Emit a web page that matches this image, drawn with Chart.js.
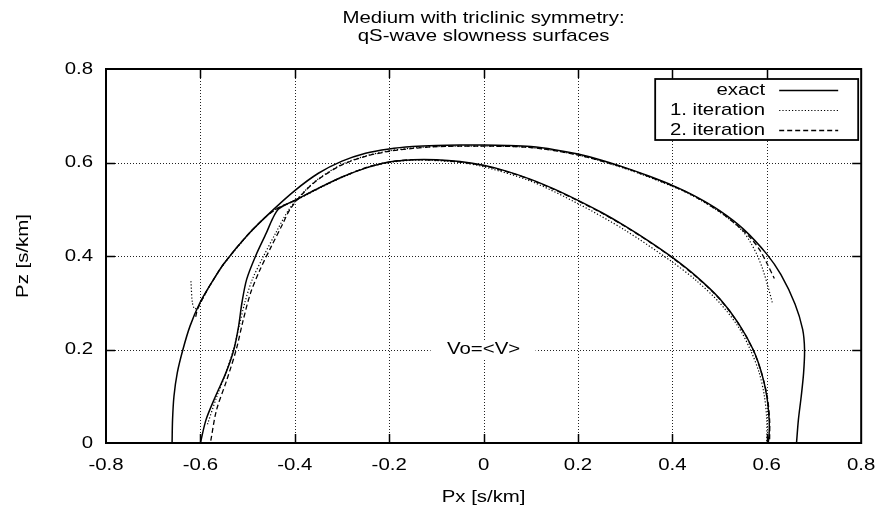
<!DOCTYPE html>
<html>
<head>
<meta charset="utf-8">
<script src="https://cdn.jsdelivr.net/npm/chart.js@4/dist/chart.umd.min.js"></script>
<style>
  html, body { margin: 0; padding: 0; background: #fff; }
  canvas { display: block; }
</style>
</head>
<body>
<canvas id="slownessChart" width="885" height="508"></canvas>
<script>
// --- DATA ---
const xTicks = [-0.8, -0.6, -0.4, -0.2, 0, 0.2, 0.4, 0.6, 0.8];
const xTickLabels = ['-0.8', '-0.6', '-0.4', '-0.2', '0', '0.2', '0.4', '0.6', '0.8'];
const yTicks = [0, 0.2, 0.4, 0.6, 0.8];
const yTickLabels = ['0', '0.2', '0.4', '0.6', '0.8'];
const legendLabels = ['exact', '1. iteration', '2. iteration'];

// exact: outer sheet (qS1) and inner sheet (qS2)
const exactOuterPx = [-0.660, -0.659, -0.656, -0.649, -0.637, -0.622, -0.601, -0.575, -0.550, -0.500, -0.450, -0.400, -0.350, -0.300, -0.250, -0.200, -0.150, -0.100, -0.050, 0.000, 0.050, 0.100, 0.150, 0.200, 0.250, 0.300, 0.350, 0.400, 0.450, 0.500, 0.550, 0.600, 0.630, 0.660, 0.676, 0.680, 0.678, 0.673, 0.667, 0.663];
const exactOuterPz = [0.000, 0.050, 0.100, 0.150, 0.200, 0.250, 0.300, 0.345, 0.384, 0.445, 0.495, 0.540, 0.577, 0.603, 0.620, 0.629, 0.634, 0.6365, 0.6375, 0.6375, 0.6365, 0.634, 0.6275, 0.618, 0.605, 0.589, 0.571, 0.551, 0.527, 0.497, 0.458, 0.404, 0.360, 0.297, 0.243, 0.200, 0.150, 0.100, 0.050, 0.000];
const exactInnerPx = [-0.600, -0.588, -0.568, -0.546, -0.529, -0.519, -0.512, -0.502, -0.483, -0.460, -0.447, -0.435, -0.415, -0.400, -0.350, -0.300, -0.250, -0.200, -0.150, -0.100, -0.050, 0.000, 0.050, 0.100, 0.150, 0.200, 0.250, 0.300, 0.350, 0.400, 0.450, 0.500, 0.540, 0.571, 0.589, 0.600, 0.605, 0.605, 0.603];
const exactInnerPz = [0.000, 0.050, 0.100, 0.150, 0.200, 0.250, 0.300, 0.350, 0.400, 0.450, 0.480, 0.500, 0.512, 0.519, 0.545, 0.569, 0.588, 0.601, 0.606, 0.606, 0.602, 0.594, 0.581, 0.564, 0.543, 0.519, 0.493, 0.464, 0.432, 0.397, 0.357, 0.309, 0.256, 0.200, 0.150, 0.100, 0.050, 0.020, 0.000];

// 1. iteration (dotted): branch A (lower inner -> outer top -> right stub), branch B (left stub -> inner top)
const iter1APx = [-0.585, -0.565, -0.546, -0.530, -0.518, -0.506, -0.490, -0.466, -0.440, -0.412, -0.380, -0.350, -0.300, -0.250, -0.200, -0.150, -0.100, 0.000, 0.100, 0.200, 0.300, 0.400, 0.450, 0.500, 0.530, 0.550, 0.565, 0.580, 0.592, 0.603, 0.612];
const iter1APz = [0.040, 0.100, 0.150, 0.200, 0.250, 0.300, 0.350, 0.400, 0.450, 0.500, 0.538, 0.565, 0.596, 0.614, 0.625, 0.631, 0.634, 0.635, 0.632, 0.616, 0.587, 0.549, 0.525, 0.494, 0.471, 0.452, 0.430, 0.401, 0.370, 0.333, 0.299];
const iter1BPx = [-0.620, -0.617, -0.612, -0.604, -0.590, -0.575, -0.550, -0.500, -0.460, -0.435, -0.400, -0.350, -0.300, -0.250, -0.200, -0.150, -0.100, -0.050, 0.000, 0.100, 0.200, 0.300, 0.400, 0.450, 0.500, 0.540, 0.565, 0.584, 0.595, 0.600, 0.600];
const iter1BPz = [0.346, 0.300, 0.287, 0.293, 0.318, 0.345, 0.383, 0.444, 0.485, 0.503, 0.518, 0.544, 0.568, 0.588, 0.600, 0.605, 0.604, 0.600, 0.591, 0.560, 0.512, 0.455, 0.387, 0.348, 0.300, 0.248, 0.200, 0.150, 0.100, 0.050, 0.000];

// 2. iteration (dashed)
const iter2APx = [-0.578, -0.566, -0.544, -0.524, -0.510, -0.494, -0.474, -0.450, -0.425, -0.410, -0.380, -0.350, -0.300, -0.250, -0.200, -0.150, -0.100, 0.000, 0.100, 0.200, 0.300, 0.400, 0.450, 0.500, 0.540, 0.567, 0.585, 0.600, 0.616];
const iter2APz = [0.005, 0.070, 0.135, 0.200, 0.260, 0.320, 0.370, 0.420, 0.470, 0.500, 0.537, 0.564, 0.595, 0.613, 0.624, 0.630, 0.634, 0.635, 0.632, 0.616, 0.588, 0.550, 0.526, 0.495, 0.463, 0.437, 0.413, 0.385, 0.352];
const iter2BPx = [-0.610, -0.606, -0.590, -0.575, -0.550, -0.500, -0.460, -0.435, -0.400, -0.350, -0.300, -0.250, -0.200, -0.150, -0.100, -0.050, 0.000, 0.050, 0.100, 0.150, 0.200, 0.250, 0.300, 0.350, 0.400, 0.450, 0.500, 0.540, 0.571, 0.589, 0.601, 0.606, 0.606];
const iter2BPz = [0.270, 0.286, 0.319, 0.345, 0.384, 0.445, 0.485, 0.503, 0.519, 0.545, 0.569, 0.589, 0.601, 0.606, 0.605, 0.601, 0.593, 0.580, 0.563, 0.542, 0.518, 0.492, 0.463, 0.431, 0.396, 0.356, 0.308, 0.255, 0.199, 0.149, 0.099, 0.049, 0.005];

const noteText = 'Vo=<V>';
const notePx = 0;
const notePz = 0.2;

// --- helpers ---
const toPoints = (px, pz) => px.map((x, i) => ({ x: x, y: pz[i] }));

const FONT = '"Liberation Sans", Arial, Helvetica, sans-serif';
const TEXT_STRETCH = 1.2; // the reference glyphs are a bit wider than plain Helvetica

const canvas = document.getElementById('slownessChart');
const ctx = canvas.getContext('2d');
const plainFillText = ctx.fillText;
ctx.fillText = function (text, x, y) {
    this.save();
    this.translate(x, y);
    this.scale(TEXT_STRETCH, 1);
    plainFillText.call(this, text, 0, 0);
    this.restore();
};

const styles = {
    exact: { borderWidth: 1.5, borderDash: [] },
    iter1: { borderWidth: 1.2, borderDash: [1.2, 2] },
    iter2: { borderWidth: 1.3, borderDash: [5, 3] }
};

function curve(label, style, px, pz) {
    return {
        label: label,
        data: toPoints(px, pz),
        showLine: true,
        fill: false,
        borderColor: '#000',
        borderWidth: style.borderWidth,
        borderDash: style.borderDash,
        pointRadius: 0,
        pointHoverRadius: 0,
        tension: 0.3
    };
}

// grid, border, inward ticks, note label and the boxed key
const framePlugin = {
    id: 'gnuplotFrame',
    beforeDatasetsDraw(chart) {
        const { ctx, chartArea: a, scales: { x, y } } = chart;
        ctx.save();
        ctx.strokeStyle = '#222';
        ctx.lineWidth = 1;
        ctx.setLineDash([1, 2]);
        xTicks.slice(1, -1).forEach(v => {
            const p = Math.round(x.getPixelForValue(v)) + 0.5;
            ctx.beginPath(); ctx.moveTo(p, a.top); ctx.lineTo(p, a.bottom); ctx.stroke();
        });
        yTicks.slice(1, -1).forEach(v => {
            const p = Math.round(y.getPixelForValue(v)) + 0.5;
            ctx.beginPath(); ctx.moveTo(a.left, p); ctx.lineTo(a.right, p); ctx.stroke();
        });
        ctx.setLineDash([]);

        // note label on a white patch
        const lx = x.getPixelForValue(notePx);
        const ly = y.getPixelForValue(notePz);
        ctx.fillStyle = '#fff';
        ctx.fillRect(lx - 53, ly - 9, 105, 18);
        ctx.fillStyle = '#000';
        ctx.font = '17px ' + FONT;
        ctx.textAlign = 'center';
        ctx.textBaseline = 'middle';
        ctx.fillText(noteText, lx, ly);
        ctx.restore();
    },
    afterDraw(chart) {
        const { ctx, chartArea: a, scales: { x, y } } = chart;
        ctx.save();
        ctx.strokeStyle = '#000';

        // inward tick marks
        ctx.lineWidth = 1.5;
        xTicks.slice(1, -1).forEach(v => {
            const p = Math.round(x.getPixelForValue(v)) + 0.5;
            ctx.beginPath();
            ctx.moveTo(p, a.bottom); ctx.lineTo(p, a.bottom - 9);
            ctx.moveTo(p, a.top); ctx.lineTo(p, a.top + 9);
            ctx.stroke();
        });
        yTicks.slice(1, -1).forEach(v => {
            const p = Math.round(y.getPixelForValue(v)) + 0.5;
            ctx.beginPath();
            ctx.moveTo(a.left, p); ctx.lineTo(a.left + 9, p);
            ctx.moveTo(a.right, p); ctx.lineTo(a.right - 9, p);
            ctx.stroke();
        });

        // plot border
        ctx.lineWidth = 2;
        ctx.strokeRect(a.left, a.top, a.right - a.left, a.bottom - a.top);

        // key box, top right
        const bw = 203, bh = 61;
        const bx = a.right - 3 - bw;
        const by = a.top + 10;
        ctx.fillStyle = '#fff';
        ctx.fillRect(bx, by, bw, bh);
        ctx.lineWidth = 1.8;
        ctx.strokeRect(bx, by, bw, bh);

        ctx.font = '17px ' + FONT;
        ctx.textAlign = 'right';
        ctx.textBaseline = 'middle';
        ctx.fillStyle = '#000';
        legendLabels.forEach((label, i) => {
            const ds = chart.data.datasets.find(d => d.label === label);
            const rowY = by + 11 + i * 20;
            ctx.fillText(label, bx + 110, rowY);
            ctx.lineWidth = ds.borderWidth;
            ctx.setLineDash(ds.borderDash);
            ctx.beginPath();
            ctx.moveTo(bx + 124, rowY + 0.5);
            ctx.lineTo(bx + 183, rowY + 0.5);
            ctx.stroke();
            ctx.setLineDash([]);
        });
        ctx.restore();
    }
};

Chart.defaults.font.family = FONT;
Chart.defaults.font.size = 17;
Chart.defaults.color = '#000';

new Chart(ctx, {
    type: 'scatter',
    data: {
        datasets: [
            curve('exact', styles.exact, exactOuterPx, exactOuterPz),
            curve('exact', styles.exact, exactInnerPx, exactInnerPz),
            curve('1. iteration', styles.iter1, iter1APx, iter1APz),
            curve('1. iteration', styles.iter1, iter1BPx, iter1BPz),
            curve('2. iteration', styles.iter2, iter2APx, iter2APz),
            curve('2. iteration', styles.iter2, iter2BPx, iter2BPz)
        ]
    },
    options: {
        responsive: false,
        devicePixelRatio: 1,
        animation: false,
        layout: {
            padding: { top: 0, right: 19, bottom: 0, left: 0 }
        },
        plugins: {
            legend: { display: false },
            tooltip: { enabled: false },
            title: {
                display: true,
                fullSize: false,
                text: ['Medium with triclinic symmetry:', 'qS-wave slowness surfaces'],
                color: '#000',
                font: { size: 17, weight: 'normal', lineHeight: '18px' },
                padding: { top: 9, bottom: 24 }
            }
        },
        scales: {
            x: {
                type: 'linear',
                min: -0.8,
                max: 0.8,
                afterBuildTicks: scale => { scale.ticks = xTicks.map(v => ({ value: v })); },
                afterFit: scale => { scale.height = 65; },
                ticks: {
                    autoSkip: false,
                    maxRotation: 0,
                    padding: 12,
                    callback: (value, index) => xTickLabels[index]
                },
                grid: { display: false, drawTicks: false },
                border: { display: false },
                title: {
                    display: true,
                    text: 'Px [s/km]',
                    font: { size: 17 },
                    padding: { top: 2, bottom: 0 }
                }
            },
            y: {
                type: 'linear',
                min: 0,
                max: 0.8,
                afterBuildTicks: scale => { scale.ticks = yTicks.map(v => ({ value: v })); },
                afterFit: scale => { scale.width = 106; },
                ticks: {
                    padding: 13,
                    callback: (value, index) => yTickLabels[index]
                },
                grid: { display: false, drawTicks: false },
                border: { display: false },
                title: {
                    display: true,
                    text: 'Pz [s/km]',
                    font: { size: 17 },
                    padding: { top: 13, bottom: 0 }
                }
            }
        }
    },
    plugins: [framePlugin]
});
</script>
</body>
</html>
